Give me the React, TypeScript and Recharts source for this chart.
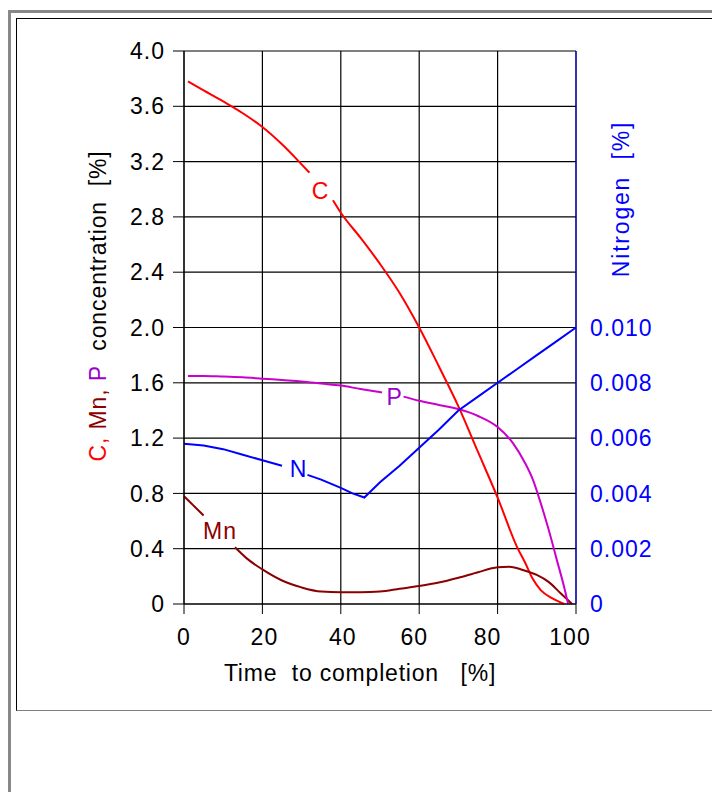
import React from 'react';
import { LineChart, Line, XAxis, YAxis, CartesianGrid, ReferenceDot } from 'recharts';

// ---- data ----
const xTicks = [0, 20, 40, 60, 80, 100];
const leftTicks = [0, 0.4, 0.8, 1.2, 1.6, 2.0, 2.4, 2.8, 3.2, 3.6, 4.0];
const rightTicks = [0, 0.002, 0.004, 0.006, 0.008, 0.01];

const carbonTime = [1, 5, 10, 15, 20, 25, 30, 32, 35, 38, 40, 45, 50, 55, 60, 65, 70, 75, 80, 85, 87, 89, 91, 94, 97];
const carbonValues = [3.78, 3.715, 3.635, 3.55, 3.45, 3.325, 3.18, 3.12, null, 2.92, 2.83, 2.65, 2.46, 2.25, 2.0, 1.72, 1.43, 1.1, 0.77, 0.41, 0.3, 0.18, 0.1, 0.04, 0];

const manganeseTime = [0, 2.5, 5, 9, 13, 16, 20, 25, 30, 35, 40, 45, 50, 55, 60, 65, 70, 75, 80, 83, 86, 90, 93, 96, 99];
const manganeseValues = [0.78, 0.71, 0.64, null, 0.41, 0.33, 0.25, 0.17, 0.12, 0.09, 0.085, 0.085, 0.09, 0.11, 0.13, 0.155, 0.19, 0.23, 0.265, 0.27, 0.25, 0.21, 0.16, 0.08, 0];

const phosphorusTime = [1, 5, 10, 15, 20, 25, 30, 35, 40, 45, 50.5, 53, 56, 60, 65, 70, 75, 80, 84, 87, 89, 91, 93, 95, 97, 98];
const phosphorusValues = [1.65, 1.65, 1.645, 1.64, 1.63, 1.62, 1.61, 1.595, 1.58, 1.555, 1.53, null, 1.5, 1.47, 1.44, 1.41, 1.36, 1.28, 1.16, 1.02, 0.9, 0.73, 0.54, 0.33, 0.12, 0];

const nitrogenTime = [0, 5, 10, 15, 20, 25, 28, 31.5, 35, 40, 43, 46, 50, 55, 60, 65, 70, 75, 80, 85, 90, 95, 100];
const nitrogenValues = [0.0058, 0.00573, 0.0056, 0.0054, 0.0052, 0.005, null, 0.00467, 0.0045, 0.0042, 0.004, 0.00385, 0.0044, 0.005, 0.00565, 0.0063, 0.007, 0.0075, 0.008, 0.0085, 0.009, 0.0095, 0.01];

// small label nudges of the x tick texts, as in the reference
const xTickNudge: Record<number, number> = { 0: 0, 20: 2, 40: 2, 60: -5, 80: -10, 100: -6 };

const zip = (ts: number[], vs: (number | null)[]) => ts.map((t, i) => ({ t, v: vs[i] }));
const carbon = zip(carbonTime, carbonValues);
const manganese = zip(manganeseTime, manganeseValues);
const phosphorus = zip(phosphorusTime, phosphorusValues);
const nitrogen = zip(nitrogenTime, nitrogenValues);

const FONT = '"Liberation Sans", Arial, sans-serif';
const RED = '#ff0000';
const DARKRED = '#8b0000';
const MAGENTA = '#cc00cc';
const PURPLE = '#9900cc';
const BLUE = '#0000ff';

const FS = 23;
const tickStyle = { fill: '#000', fontSize: FS, fontFamily: FONT, letterSpacing: 1 };

const XTick = (props: any) => {
  const { x, y, payload } = props;
  const dx = xTickNudge[payload.value] ?? 0;
  return (
    <text x={x + dx} y={y} dy="0.71em" textAnchor="middle" fill="#000" fontSize={FS}
      fontFamily={FONT} letterSpacing={1}>
      {String(payload.value)}
    </text>
  );
};

export default function App() {
  return (
    <div style={{ position: 'absolute', left: 0, top: 0, width: 712, height: 792 }}>
      <div
        style={{
          position: 'absolute', left: 8, top: 10, width: 704, height: 782, boxSizing: 'border-box',
          borderTop: '3px solid #888', borderLeft: '3px solid #888',
        }}
      />
      <div
        style={{
          position: 'absolute', left: 16, top: 18, width: 696, height: 693, boxSizing: 'border-box',
          borderTop: '1px solid #000', borderLeft: '1px solid #000', borderBottom: '1px solid #808080',
        }}
      />
      <div style={{ position: 'absolute', left: 0, top: 0 }}>
        <LineChart width={712} height={720} margin={{ top: 51, right: 0, bottom: 36, left: 0 }}>
          <CartesianGrid yAxisId="left" stroke="#000" strokeWidth={1.2} />
          <XAxis
            dataKey="t"
            type="number"
            domain={[0, 100]}
            ticks={xTicks}
            height={80}
            tick={<XTick />}
            tickSize={10}
            tickMargin={15}
            stroke="#000"
            allowDuplicatedCategory={false}
          />
          <YAxis
            yAxisId="left"
            type="number"
            domain={[0, 4]}
            ticks={leftTicks}
            width={184}
            tick={tickStyle}
            tickSize={11}
            tickMargin={8}
            stroke="#000"
            tickFormatter={(v: number) => (v === 0 ? '0' : v.toFixed(1))}
          />
          <YAxis
            yAxisId="right"
            orientation="right"
            type="number"
            domain={[0, 0.02]}
            ticks={rightTicks}
            width={136}
            tick={{ ...tickStyle, fill: BLUE }}
            tickLine={false}
            tickSize={6}
            tickMargin={8}
            stroke={BLUE}
            tickFormatter={(v: number) => (v === 0 ? '0' : v.toFixed(3))}
          />
          <Line yAxisId="left" data={carbon} dataKey="v" type="monotone" stroke={RED} strokeWidth={2} dot={false} isAnimationActive={false} connectNulls={false} />
          <Line yAxisId="left" data={manganese} dataKey="v" type="monotone" stroke={DARKRED} strokeWidth={2} dot={false} isAnimationActive={false} connectNulls={false} />
          <Line yAxisId="left" data={phosphorus} dataKey="v" type="monotone" stroke={MAGENTA} strokeWidth={2} dot={false} isAnimationActive={false} connectNulls={false} />
          <Line yAxisId="right" data={nitrogen} dataKey="v" type="linear" stroke={BLUE} strokeWidth={2} dot={false} isAnimationActive={false} connectNulls={false} />
          <ReferenceDot yAxisId="left" x={34.7} y={2.99} r={0} fill="none" stroke="none"
            label={{ value: 'C', position: 'center', fill: RED, fontSize: FS, fontFamily: FONT }} />
          <ReferenceDot yAxisId="left" x={9.2} y={0.53} r={0} fill="none" stroke="none"
            label={{ value: 'Mn', position: 'center', fill: DARKRED, fontSize: FS, fontFamily: FONT, letterSpacing: 1 }} />
          <ReferenceDot yAxisId="left" x={53.6} y={1.5} r={0} fill="none" stroke="none"
            label={{ value: 'P', position: 'center', fill: PURPLE, fontSize: FS, fontFamily: FONT }} />
          <ReferenceDot yAxisId="left" x={29.1} y={0.98} r={0} fill="none" stroke="none"
            label={{ value: 'N', position: 'center', fill: BLUE, fontSize: FS, fontFamily: FONT }} />
        </LineChart>
      </div>
      <svg
        width={712}
        height={792}
        style={{ position: 'absolute', left: 0, top: 0, pointerEvents: 'none' }}
      >
        <text x={360} y={681} textAnchor="middle" fontSize={FS} fontFamily={FONT} fill="#000"
          letterSpacing={0.8} style={{ whiteSpace: 'pre' }}>
          {'Time  to completion   [%]'}
        </text>
        <text transform="translate(106,306) rotate(-90)" textAnchor="middle" fontSize={FS}
          fontFamily={FONT} letterSpacing={0.9} style={{ whiteSpace: 'pre' }}>
          <tspan fill={RED}>{'C, '}</tspan>
          <tspan fill={DARKRED}>{'Mn, '}</tspan>
          <tspan fill={PURPLE}>{'P'}</tspan>
          <tspan fill="#000">{'  concentration  [%]'}</tspan>
        </text>
        <text transform="translate(629,199) rotate(-90)" textAnchor="middle" fontSize={FS}
          fontFamily={FONT} fill={BLUE} letterSpacing={1.8} style={{ whiteSpace: 'pre' }}>
          {'Nitrogen  [%]'}
        </text>
      </svg>
    </div>
  );
}
